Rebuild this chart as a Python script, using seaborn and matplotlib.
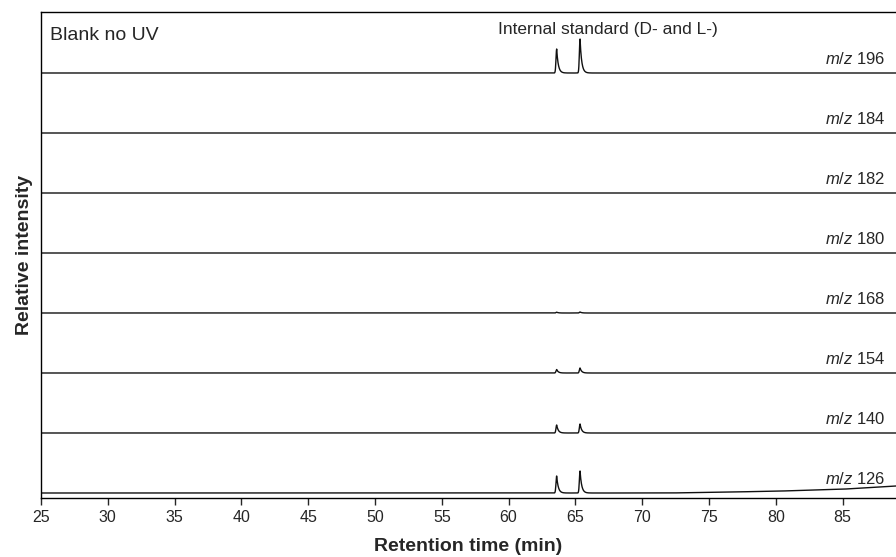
import numpy as np
import pandas as pd
import matplotlib
matplotlib.use('Agg')
import matplotlib.pyplot as plt
import seaborn as sns

sns.set_style('ticks')
plt.rcParams['font.family'] = ['Liberation Sans', 'DejaVu Sans']
plt.rcParams['mathtext.fontset'] = 'custom'
plt.rcParams['mathtext.rm'] = 'Liberation Sans'
plt.rcParams['mathtext.it'] = 'Liberation Sans:italic'

# traces from top to bottom
mz_labels = ['196', '184', '182', '180', '168', '154', '140', '126']
# internal standard peaks (min)
peak_times = [63.6, 65.35]
# peak heights per trace (relative units, same order as mz_labels)
peak_first = [24, 0, 0, 0, 0.8, 3.5, 8, 17]
peak_second = [34, 0, 0, 0, 1.0, 5, 9, 22]
# rising baseline on m/z 126 read at a few times
drift_time = [25, 72, 75, 80, 85, 89]
drift_level = [0, 0, 0.6, 1.8, 3.8, 7.0]

offset_step = 60
t = np.arange(25, 89.01, 0.01)


def peak(x, mu, h, sig=0.05, tail=0.12):
    left = h * np.exp(-0.5 * ((x - mu) / sig) ** 2)
    right = h * np.exp(-(x - mu) / tail)
    return np.where(x < mu, left, right)


rows = []
n = len(mz_labels)
for i, mz in enumerate(mz_labels):
    y = peak(t, peak_times[0], peak_first[i]) + peak(t, peak_times[1], peak_second[i])
    if mz == '126':
        y = y + np.interp(t, drift_time, drift_level)
    base = (n - 1 - i) * offset_step
    rows.append(pd.DataFrame({'time': t, 'signal': y + base, 'mz': mz}))
df = pd.concat(rows)

fig = plt.figure(figsize=(8.96, 5.57), dpi=100)
ax = fig.add_axes([41 / 896, 1 - 498 / 557, 1 - 41 / 896, 486 / 557])

for mz in mz_labels:
    sub = df[df['mz'] == mz]
    sns.lineplot(data=sub, x='time', y='signal', ax=ax, color='#111111', lw=1.0,
                 estimator=None, sort=False, legend=False)

for i, mz in enumerate(mz_labels):
    base = (n - 1 - i) * offset_step
    ax.text(88.2, base + 6, r'$m/z$ ' + mz, ha='right', va='bottom', fontsize=12)

ax.text(67.4, 456, 'Internal standard (D- and L-)', ha='center', va='bottom', fontsize=12.5)
ax.text(25.65, 457, 'Blank no UV', ha='left', va='center', fontsize=14)

ax.set_xlim(25, 89)
ax.set_ylim(-5, 481)
ax.set_xticks(range(25, 90, 5))
ax.set_yticks([])
ax.tick_params(axis='x', labelsize=11.5, length=5, width=1, direction='out', pad=4)
ax.set_xlabel('Retention time (min)', fontsize=14, fontweight='bold', labelpad=9)
ax.set_ylabel('Relative intensity', fontsize=14, fontweight='bold', labelpad=6)
for s in ['left', 'bottom', 'top']:
    ax.spines[s].set_linewidth(1)
    ax.spines[s].set_color('black')
ax.spines['right'].set_visible(False)

fig.savefig('out.png', dpi=100)
